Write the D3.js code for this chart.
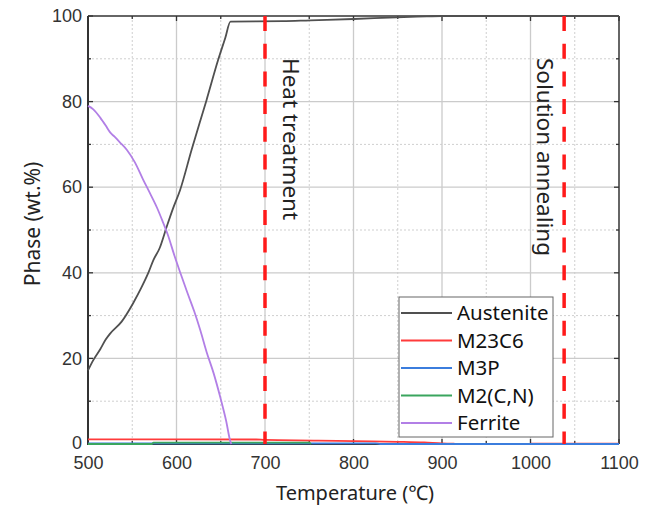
<!DOCTYPE html>
<html><head><meta charset="utf-8">
<script src="https://cdn.jsdelivr.net/npm/d3@7"></script>
<style>
html,body{margin:0;padding:0;background:#fff;}
svg{display:block;font-family:"Noto Sans","Open Sans",Arial,sans-serif;}
</style></head>
<body>
<svg id="chart" width="650" height="507"></svg>
<script>
// ---- data ----
const xTicks = [500, 600, 700, 800, 900, 1000, 1100];
const yTicks = [0, 20, 40, 60, 80, 100];
const seriesNames = ["Austenite", "M23C6", "M3P", "M2(C,N)", "Ferrite"];
const seriesColors = ["#505050", "#ff3b3b", "#3b7ddd", "#3aa55e", "#b27fe6"];

const austenite = [[500,17.2],[506,19.6],[514,22.2],[520,24.4],[525,25.8],[538,28.6],[551,32.9],[560,36.4],[568,39.9],[574,43],[581,45.8],[589,50.8],[596,55],[604,59.3],[617,68.7],[634,80.4],[647,89.7],[655,94.8],[661,98.7],[720,98.8],[751,99.0],[800,99.3],[849,99.7],[883,99.9],[900,100],[1100,100]];
const m23c6 = [[500,1.1],[600,1.1],[690,1.05],[700,0.95],[760,0.8],[800,0.65],[850,0.5],[880,0.35],[900,0.15],[914,0.08],[916,null],[998,null],[1000,0.08],[1100,0.08]];
const m3p = [[500,0.15],[600,0.15],[700,0.15],[800,0.15],[825,0.15],[830,0],[1100,0]];
const m2cn = [[500,0],[572,0],[574,0.3],[650,0.3],[700,0.3],[750,0.3],[752,0]];
const ferrite = [[500,79],[506,78.2],[514,76.2],[520,74.4],[525,72.8],[530,71.8],[536,70.5],[544,68.7],[553,65.8],[562,61.9],[570,58.6],[578,55.2],[584,52.2],[590,49],[598,43.8],[605,39.6],[612,35.5],[620,31],[627,26.5],[634,21.5],[642,16.5],[650,10.5],[656,5.5],[661,0.5],[662,0]];
const seriesData = [austenite, m23c6, m3p, m2cn, ferrite];

const markers = [700, 1038];
const markerLabels = ["Heat treatment", "Solution annealing"];

// ---- layout ----
const svg = d3.select("#chart");
const L = 88, T = 16, W = 531, H = 428;
const x = d3.scaleLinear().domain([500, 1100]).range([L, L + W]);
const y = d3.scaleLinear().domain([0, 100]).range([T + H, T]);

const minorX = d3.range(500, 1101, 50);
const minorY = d3.range(0, 101, 10);

// grid
const g = svg.append("g");
minorX.filter(v => v % 100 !== 0).forEach(v => g.append("line").attr("x1", x(v)).attr("x2", x(v)).attr("y1", T).attr("y2", T + H).attr("stroke", "#cfcfcf").attr("stroke-width", 1).attr("stroke-dasharray", "2,2"));
minorY.filter(v => v % 20 !== 0).forEach(v => g.append("line").attr("y1", y(v)).attr("y2", y(v)).attr("x1", L).attr("x2", L + W).attr("stroke", "#cfcfcf").attr("stroke-width", 1).attr("stroke-dasharray", "2,2"));
xTicks.slice(1, -1).forEach(v => g.append("line").attr("x1", x(v)).attr("x2", x(v)).attr("y1", T).attr("y2", T + H).attr("stroke", "#cbcbcb").attr("stroke-width", 1.3));
yTicks.slice(1, -1).forEach(v => g.append("line").attr("y1", y(v)).attr("y2", y(v)).attr("x1", L).attr("x2", L + W).attr("stroke", "#cbcbcb").attr("stroke-width", 1.3));

// axes via d3
const tickFont = '"Liberation Sans",Arial,sans-serif';
const axB = svg.append("g").attr("transform", `translate(0,${T + H})`)
  .call(d3.axisBottom(x).tickValues(xTicks).tickSize(0).tickPadding(12.5).tickFormat(d3.format("d")));
const axL = svg.append("g").attr("transform", `translate(${L},0)`)
  .call(d3.axisLeft(y).tickValues(yTicks).tickSize(0).tickPadding(6).tickFormat(d3.format("d")));
[axB, axL].forEach(a => {
  a.select(".domain").remove();
  a.selectAll("text").attr("font-size", 18).attr("fill", "#333").attr("font-family", tickFont);
});
axL.selectAll(".tick").filter(d => d === 0).select("text").attr("dy", "0.26em");

// inward ticks
const tk = svg.append("g").attr("stroke", "#333").attr("stroke-width", 1.3);
minorX.forEach(v => {
  const len = v % 100 === 0 ? 5 : 3;
  tk.append("line").attr("x1", x(v)).attr("x2", x(v)).attr("y1", T + H).attr("y2", T + H - len);
  tk.append("line").attr("x1", x(v)).attr("x2", x(v)).attr("y1", T).attr("y2", T + len);
});
minorY.forEach(v => {
  const len = v % 20 === 0 ? 5 : 3;
  tk.append("line").attr("y1", y(v)).attr("y2", y(v)).attr("x1", L).attr("x2", L + len);
  tk.append("line").attr("y1", y(v)).attr("y2", y(v)).attr("x1", L + W).attr("x2", L + W - len);
});

// frame
svg.append("line").attr("x1", L).attr("x2", L + W).attr("y1", T).attr("y2", T).attr("stroke", "#333").attr("stroke-width", 1.5);
svg.append("line").attr("x1", L + W).attr("x2", L + W).attr("y1", T).attr("y2", T + H).attr("stroke", "#333").attr("stroke-width", 1.5);
svg.append("line").attr("x1", L).attr("x2", L + W).attr("y1", T + H).attr("y2", T + H).attr("stroke", "#333").attr("stroke-width", 2);
svg.append("line").attr("x1", L).attr("x2", L).attr("y1", T).attr("y2", T + H + 1).attr("stroke", "#333").attr("stroke-width", 2);

// curves
const line = d3.line().defined(d => d[1] != null).curve(d3.curveMonotoneX).x(d => x(d[0])).y(d => y(d[1]));
seriesData.forEach((data, i) => {
  svg.append("path").datum(data).attr("d", line).attr("fill", "none")
    .attr("stroke", seriesColors[i]).attr("stroke-width", 1.8);
});

// dashed markers
markers.forEach((m, i) => {
  svg.append("line").attr("x1", x(m)).attr("x2", x(m)).attr("y1", T).attr("y2", T + H)
    .attr("stroke", "#ff1a1a").attr("stroke-width", 3.5).attr("stroke-dasharray", "15,12.7");
});
const tx = [x(700) + 12, x(1038) - 33];
markerLabels.forEach((s, i) => {
  svg.append("text").attr("transform", `translate(${tx[i]},${58}) rotate(90)`)
    .attr("font-size", 22.5).attr("fill", "#222").attr("dy", "-0.28em").text(s);
});

// legend
const lg = svg.append("g");
const lx = 399, ly = 297, lw = 154, lh = 140;
lg.append("rect").attr("x", lx).attr("y", ly).attr("width", lw).attr("height", lh)
  .attr("fill", "#fff").attr("stroke", "#666").attr("stroke-width", 1);
seriesNames.forEach((n, i) => {
  const yy = 313 + i * 27.5;
  lg.append("line").attr("x1", 401).attr("x2", 452).attr("y1", yy).attr("y2", yy)
    .attr("stroke", seriesColors[i]).attr("stroke-width", 2);
  lg.append("text").attr("x", 457).attr("y", yy).attr("dy", "0.36em")
    .attr("font-size", 20.5).attr("fill", "#111").text(n);
});

// axis titles
svg.append("text").attr("x", 355).attr("y", 500).attr("text-anchor", "middle")
  .attr("font-size", 20).attr("fill", "#222").text("Temperature (℃)");
svg.append("text").attr("transform", `translate(40,${224}) rotate(-90)`).attr("text-anchor", "middle")
  .attr("font-size", 21).attr("fill", "#222").text("Phase (wt.%)");
</script>
</body></html>
